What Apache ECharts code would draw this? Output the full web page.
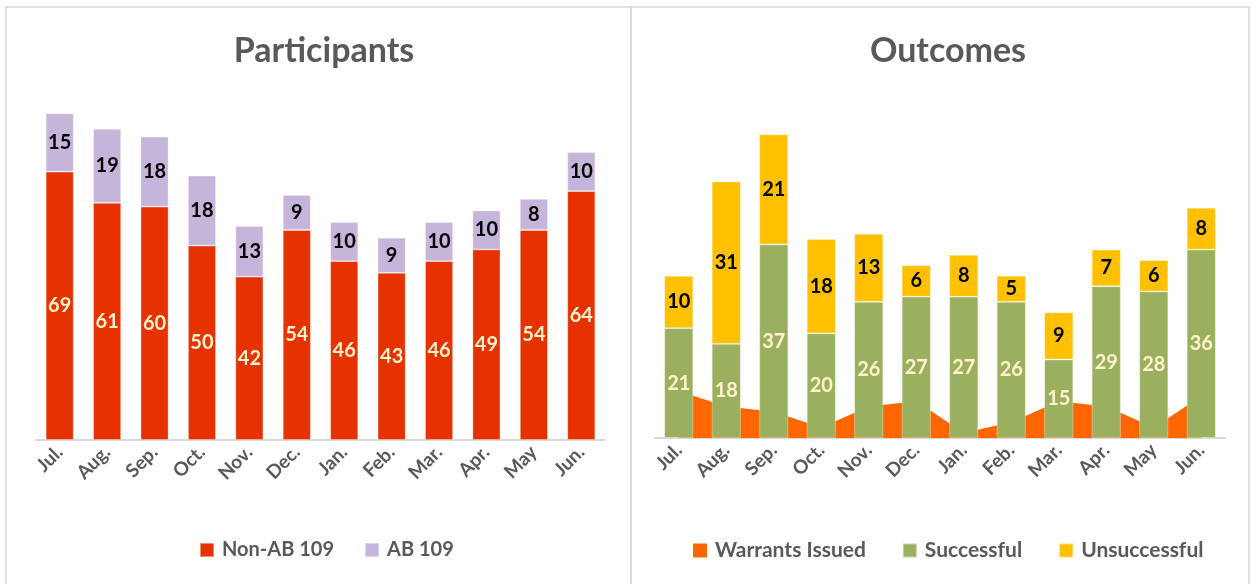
<!DOCTYPE html>
<html>
<head>
<meta charset="utf-8">
<script src="https://cdn.jsdelivr.net/npm/echarts@6/dist/echarts.min.js"></script>
<style>
  html, body { margin: 0; padding: 0; background: #fff; }
  #chart { width: 1252px; height: 584px; }
</style>
</head>
<body>
<div id="chart"></div>
<script>
// data
const months = ['Jul.', 'Aug.', 'Sep.', 'Oct.', 'Nov.', 'Dec.', 'Jan.', 'Feb.', 'Mar.', 'Apr.', 'May', 'Jun.'];
const nonAb109 = [69, 61, 60, 50, 42, 54, 46, 43, 46, 49, 54, 64];
const ab109 = [15, 19, 18, 18, 13, 9, 10, 9, 10, 10, 8, 10];
const warrantsIssued = [9, 6, 5, 2, 6, 7, 1, 3, 7, 6, 2, 8];
const successful = [21, 18, 37, 20, 26, 27, 27, 26, 15, 29, 28, 36];
const unsuccessful = [10, 31, 21, 18, 13, 6, 8, 5, 9, 7, 6, 8];

const FONT = 'Lato';
const GREY = '#595959';

let chart = echarts.init(document.getElementById('chart'));

function monthAxis(gridIndex) {
    return {
        type: 'category',
        gridIndex: gridIndex,
        data: months,
        axisLine: {lineStyle: {color: '#d9d9d9', width: 2}},
        axisTick: {show: false},
        axisLabel: {
            rotate: 45,
            margin: 9,
            color: GREY,
            fontFamily: FONT,
            fontWeight: 'bold',
            fontSize: 19
        }
    };
}

function valueAxis(gridIndex, max) {
    return {
        type: 'value',
        gridIndex: gridIndex,
        min: 0,
        max: max,
        show: false,
        splitLine: {show: false}
    };
}

function barLabel(color) {
    return {
        show: true,
        position: 'inside',
        color: color,
        fontFamily: FONT,
        fontWeight: 'bold',
        fontSize: 20
    };
}

function legendText(size) {
    return {color: GREY, fontFamily: FONT, fontWeight: 'bold', fontSize: size, padding: [0, 0, 0, 3]};
}

chart.setOption({
    animation: false,
    graphic: [
        {type: 'rect', shape: {x: 6, y: 7, width: 625, height: 600}, style: {fill: 'none', stroke: '#d9d9d9', lineWidth: 1.5}},
        {type: 'rect', shape: {x: 631, y: 7, width: 618, height: 600}, style: {fill: 'none', stroke: '#d9d9d9', lineWidth: 1.5}}
    ],
    title: [
        {text: 'Participants', left: 319, top: 29, textAlign: 'center',
         textStyle: {color: GREY, fontFamily: FONT, fontWeight: 'bold', fontSize: 34}},
        {text: 'Outcomes', left: 943, top: 29, textAlign: 'center',
         textStyle: {color: GREY, fontFamily: FONT, fontWeight: 'bold', fontSize: 34}}
    ],
    legend: [
        {data: ['Non-AB 109', 'AB 109'], left: 194, top: 535, icon: 'rect',
         itemWidth: 14, itemHeight: 14, itemGap: 30, textStyle: legendText(20)},
        {data: ['Warrants Issued', 'Successful', 'Unsuccessful'], left: 688, top: 535, icon: 'rect',
         itemWidth: 14, itemHeight: 14, itemGap: 36, textStyle: legendText(21)}
    ],
    grid: [
        {left: 36, top: 90, width: 569, height: 350},
        {left: 655, top: 124, width: 570, height: 314}
    ],
    xAxis: [monthAxis(0), monthAxis(1)],
    yAxis: [valueAxis(0, 90), valueAxis(1, 60)],
    series: [
        {
            name: 'Non-AB 109', type: 'bar', stack: 'p', xAxisIndex: 0, yAxisIndex: 0,
            data: nonAb109, barWidth: 28,
            itemStyle: {color: '#e63200', borderColor: 'rgba(255,255,255,0.45)', borderWidth: 0.8},
            label: barLabel('#fff2cc')
        },
        {
            name: 'AB 109', type: 'bar', stack: 'p', xAxisIndex: 0, yAxisIndex: 0,
            data: ab109, barWidth: 28,
            itemStyle: {color: '#c5b5da', borderColor: 'rgba(255,255,255,0.45)', borderWidth: 0.8},
            label: barLabel('#000')
        },
        {
            name: 'Warrants Issued', type: 'line', xAxisIndex: 1, yAxisIndex: 1,
            data: warrantsIssued, symbol: 'none', z: 1,
            lineStyle: {width: 0, color: '#ff6600'},
            itemStyle: {color: '#ff6600'},
            areaStyle: {color: '#ff6600', opacity: 1}
        },
        {
            name: 'Successful', type: 'bar', stack: 'o', xAxisIndex: 1, yAxisIndex: 1,
            data: successful, barWidth: 29, z: 3,
            itemStyle: {color: '#9bb05f', borderColor: 'rgba(255,255,255,0.45)', borderWidth: 0.8},
            label: barLabel('#fff2cc')
        },
        {
            name: 'Unsuccessful', type: 'bar', stack: 'o', xAxisIndex: 1, yAxisIndex: 1,
            data: unsuccessful, barWidth: 29, z: 3,
            itemStyle: {color: '#ffc000', borderColor: 'rgba(255,255,255,0.45)', borderWidth: 0.8},
            label: barLabel('#000')
        }
    ]
});
</script>
</body>
</html>
